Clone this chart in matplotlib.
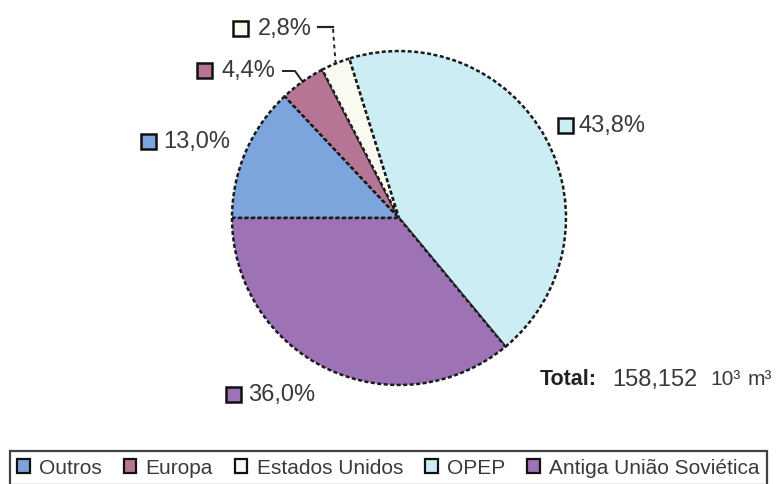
import matplotlib
matplotlib.use("Agg")
import numpy as np
import matplotlib.pyplot as plt
from matplotlib.patches import Rectangle, Patch

# Data
categories = ["Outros", "Europa", "Estados Unidos", "OPEP", "Antiga União Soviética"]
shares = [13.0, 4.4, 2.8, 43.8, 36.0]
share_labels = ["13,0%", "4,4%", "2,8%", "43,8%", "36,0%"]
colors = ["#7ba5dc", "#b77596", "#fbfaf1", "#cdedf5", "#9d73b6"]
total_parts = ["158,152", "10³", "m³"]

plt.rcParams["font.family"] = ["Liberation Sans", "DejaVu Sans"]

W, H = 778, 485
fig = plt.figure(figsize=(W / 100, H / 100), dpi=100)
ax = fig.add_axes([0, 0, 1, 1])

cx, cy, r = 399, H - 219, 167
wedges, _ = ax.pie(shares, colors=colors, startangle=180, counterclock=False,
                   center=(cx, cy), radius=r, frame=True,
                   wedgeprops=dict(edgecolor="#1a1a1a", linewidth=1.8,
                                   linestyle=(0, (1.6, 1.0))))
ax.set_xlim(0, W)
ax.set_ylim(0, H)
ax.set_aspect("equal")
ax.axis("off")

# label placement (image pixel coords: square left x, centre y, text x)
label_pos = [(141, 142, 163), (197, 71, 222), (233, 29, 258),
             (558, 126, 579), (226, 395, 248)]
sq = 15
for (sx, sy, tx), c, lab in zip(label_pos, colors, share_labels):
    ax.add_patch(Rectangle((sx, H - sy - sq / 2), sq, sq, facecolor=c,
                           edgecolor="#111111", linewidth=1.8))
    ax.text(tx, H - sy, lab, fontsize=17, color="#3a3a3a", va="center", ha="left")


def edge_point(w):
    ang = np.deg2rad((w.theta1 + w.theta2) / 2)
    return cx + r * np.cos(ang), cy + r * np.sin(ang)


# leader lines for the small slices
ex, ey = edge_point(wedges[1])
ax.plot([283, 295, ex], [H - 72, H - 72, ey], color="#222222", lw=1.4)
ex, ey = edge_point(wedges[2])
ax.plot([318, 333], [H - 28, H - 28], color="#222222", lw=1.6)
ax.plot([333, ex], [H - 30, ey], color="#222222", lw=1.4, linestyle=(0, (2, 2)))

# total
ax.text(540, H - 380, "Total:", fontsize=15.5, fontweight="bold", color="#222222",
        va="center", ha="left")
for x, part, fs in zip([612, 710, 748], total_parts, [17, 15, 15]):
    ax.text(x, H - 380, part, fontsize=fs, color="#3a3a3a", va="center", ha="left")

# legend
handles = [Patch(facecolor=c, edgecolor="#111111", linewidth=1.6) for c in colors]
leg = fig.legend(handles, categories, ncol=5, loc="upper left",
                 bbox_to_anchor=(10 / W, 1 - 452 / H), fontsize=15,
                 frameon=True, fancybox=False, edgecolor="#111111",
                 borderpad=0.35, borderaxespad=0, handlelength=0.6,
                 handleheight=0.6, handletextpad=0.45, columnspacing=1.05,
                 labelcolor="#3a3a3a")
leg.get_frame().set_linewidth(1.6)

fig.savefig("out.png", dpi=100)
